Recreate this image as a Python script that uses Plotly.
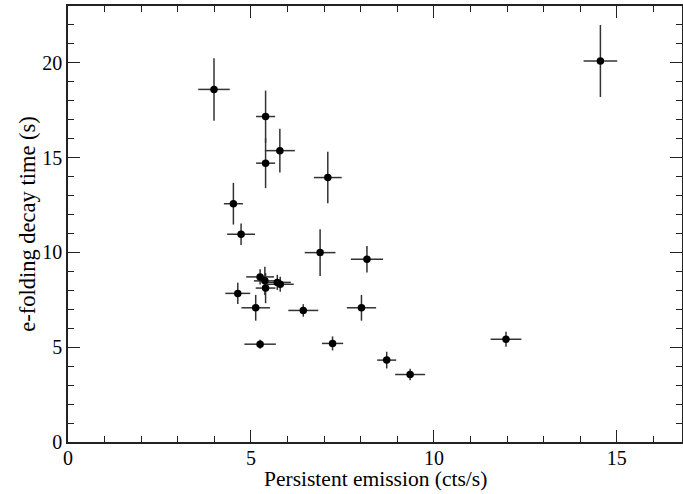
import plotly.graph_objects as go

# Data
persistent = [14.55, 11.97, 3.99, 5.40, 5.40, 5.79, 7.10, 4.52, 4.73, 6.89, 8.17,
              5.25, 5.38, 5.40, 5.72, 5.80, 4.64, 5.13, 6.43, 8.02, 7.23, 8.71, 9.35, 5.25]
persistent_err = [0.46, 0.42, 0.43, 0.26, 0.26, 0.41, 0.38, 0.26, 0.38, 0.42, 0.44,
                  0.38, 0.30, 0.27, 0.37, 0.37, 0.34, 0.39, 0.41, 0.40, 0.29, 0.26, 0.41, 0.43]
decay = [20.1, 5.42, 18.6, 17.17, 14.71, 15.37, 13.95, 12.57, 10.96, 9.99, 9.64,
         8.71, 8.50, 8.12, 8.42, 8.32, 7.84, 7.08, 6.94, 7.08, 5.20, 4.32, 3.56, 5.16]
decay_err = [1.9, 0.4, 1.65, 1.37, 1.32, 1.15, 1.36, 1.1, 0.57, 1.23, 0.7,
             0.4, 0.74, 0.8, 0.4, 0.4, 0.56, 0.68, 0.33, 0.68, 0.37, 0.44, 0.3, 0.24]

x_title = "Persistent emission (cts/s)"
y_title = "e-folding decay time (s)"

FONT = "Liberation Serif"

fig = go.Figure()
fig.add_trace(go.Scatter(
    x=persistent, y=decay, mode="markers",
    marker=dict(color="black", size=7.5),
    error_x=dict(type="data", array=persistent_err, color="#333333", thickness=1.5, width=0),
    error_y=dict(type="data", array=decay_err, color="#333333", thickness=1.5, width=0),
    showlegend=False,
))

axis_common = dict(
    showline=True, linecolor="#222222", linewidth=1.5, mirror="ticks",
    ticks="inside", ticklen=12, tickwidth=1.2, tickcolor="#222222",
    showgrid=False, zeroline=False,
    tickfont=dict(family=FONT, size=20, color="black"),
    minor=dict(ticks="inside", ticklen=6, tickwidth=1, tickcolor="#222222", dtick=1),
    dtick=5, tick0=0,
)

fig.update_xaxes(range=[0, 16.78], ticklabelstandoff=-3, **axis_common)
fig.update_yaxes(range=[0, 23.0],
                 title=dict(text=y_title, font=dict(family=FONT, size=22.5, color="black"), standoff=0),
                 **axis_common)

fig.add_annotation(
    text=x_title, xref="paper", yref="paper", x=0.5, y=0, yshift=-51,
    xanchor="center", yanchor="bottom", showarrow=False,
    font=dict(family=FONT, size=21.5, color="black"),
)

fig.update_layout(
    width=683, height=494,
    margin=dict(l=68, r=1, t=6, b=52, autoexpand=False),
    plot_bgcolor="white", paper_bgcolor="white",
)

fig.write_html("out.html")
